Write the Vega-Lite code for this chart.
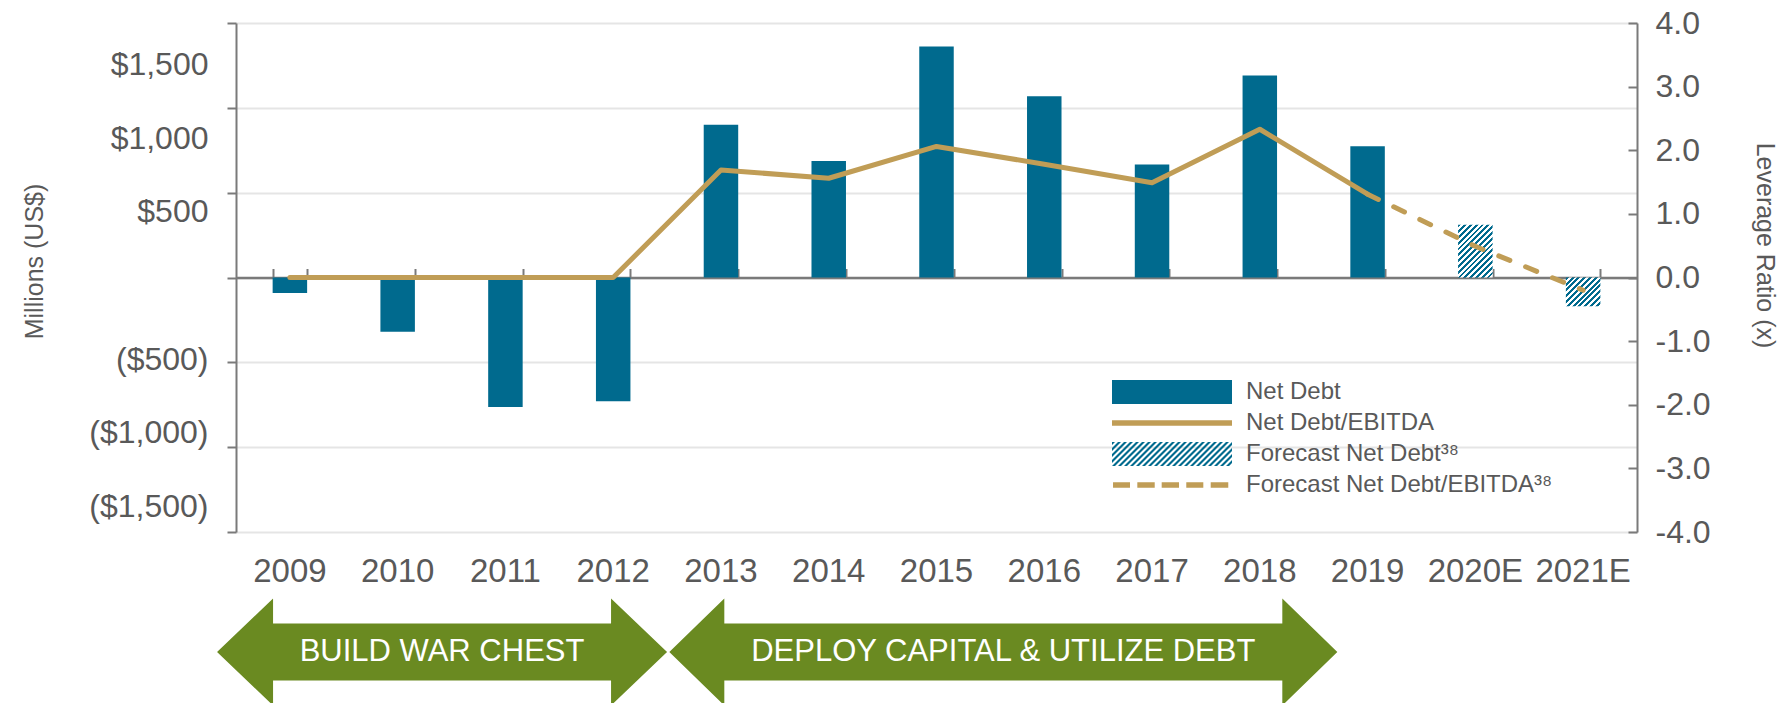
{
"$schema": "https://vega.github.io/schema/vega-lite/v6.json",
"background": "white",
"padding": {"left": 21, "top": 7, "right": 5, "bottom": 0},
"autosize": {"type": "pad"},
"config": {
  "view": {"stroke": null},
  "font": "Liberation Sans",
  "axis": {"labelFont": "Liberation Sans", "titleFont": "Liberation Sans", "labelColor": "#595959", "titleColor": "#595959", "titleFontWeight": "normal"}
},
"datasets": {
  "netDebt": [
    {"year": "2009", "netDebt": -92, "leverage": 0, "status": "Actual"},
    {"year": "2010", "netDebt": -320, "leverage": 0, "status": "Actual"},
    {"year": "2011", "netDebt": -763, "leverage": 0, "status": "Actual"},
    {"year": "2012", "netDebt": -730, "leverage": 0, "status": "Actual"},
    {"year": "2013", "netDebt": 901, "leverage": 1.69, "status": "Actual"},
    {"year": "2014", "netDebt": 687, "leverage": 1.56, "status": "Actual"},
    {"year": "2015", "netDebt": 1362, "leverage": 2.06, "status": "Actual"},
    {"year": "2016", "netDebt": 1069, "leverage": 1.78, "status": "Actual"},
    {"year": "2017", "netDebt": 666, "leverage": 1.49, "status": "Actual"},
    {"year": "2018", "netDebt": 1190, "leverage": 2.33, "status": "Actual"},
    {"year": "2019", "netDebt": 774, "leverage": 1.31, "status": "Actual"},
    {"year": "2020E", "netDebt": 311, "leverage": 0.49, "status": "Forecast"},
    {"year": "2021E", "netDebt": -169, "leverage": -0.2, "status": "Forecast"}
  ],
  "phases": [
    {"phase": "BUILD WAR CHEST", "center": 1.912},
    {"phase": "DEPLOY CAPITAL & UTILIZE DEBT", "center": 7.12}
  ]
},
"bounds": "flush",
"spacing": 70,
"vconcat": [
  {
    "width": 1401,
    "height": 509,
    "data": {"name": "netDebt"},
    "layer": [
      {
        "encoding": {
          "x": {"field": "year", "type": "nominal", "sort": null,
                "scale": {"type": "band", "paddingInner": 0.68, "paddingOuter": 0.34},
                "axis": {"title": null, "orient": "bottom", "domain": false, "ticks": false, "grid": false, "labelAngle": 0, "labelFontSize": 33, "labelPadding": 23}},
          "y": {"field": "netDebt", "type": "quantitative",
                "scale": {"domain": [-1500, 1500], "nice": false, "zero": false},
                "axis": {"orient": "left", "title": "Millions (US$)",
                         "values": [-1500, -1000, -500, 0, 500, 1000, 1500],
                         "labelExpr": "datum.value == 0 ? '' : datum.value > 0 ? '$' + format(datum.value, ',') : '($' + format(-datum.value, ',') + ')'",
                         "labelOffset": {"expr": "8 + datum.value * 0.0224"},
                         "grid": true, "gridColor": "#E5E5E5", "gridWidth": 2,
                         "domainColor": "#7A7A7A", "domainWidth": 2,
                         "tickColor": "#7A7A7A", "tickWidth": 2, "tickSize": 9,
                         "labelPadding": 19, "labelFontSize": 32,
                         "titleFontSize": 25, "titleX": -202, "titleY": 238, "titleAngle": -90, "titleAlign": "center", "titleBaseline": "middle"}}
        },
        "layer": [
          {
            "transform": [{"filter": "datum.status == 'Actual'"}],
            "mark": {"type": "bar"},
            "encoding": {
              "color": {"datum": "Net Debt", "type": "nominal",
                "scale": {"domain": ["Net Debt", "Net Debt/EBITDA", "Forecast Net Debt³⁸", "Forecast Net Debt/EBITDA³⁸"],
                          "range": ["#006A8E", "#C09D56", "#006A8E", "#C09D56"]},
                "legend": {
                  "orient": "none", "legendX": 874, "legendY": 357, "title": null, "direction": "vertical",
                  "symbolSize": 400, "symbolStrokeWidth": 0, "symbolOpacity": 1,
                  "symbolType": {"expr": "datum.index == 0 ? 'M-1,-1.2L11,-1.2L11,1.2L-1,1.2Z' : datum.index == 1 ? 'M-1,-0.27L11,-0.27L11,0.27L-1,0.27Z' : datum.index == 2 ? 'M-1,-1.2L-0.7,-1.2L-1,-0.9Z M-0.4,-1.2L-0.1,-1.2L-1,-0.3L-1,-0.6Z M0.2,-1.2L0.5,-1.2L-1,0.3L-1,0Z M0.8,-1.2L1.1,-1.2L-1,0.9L-1,0.6Z M-1,1.2L-0.7,1.2L1.7,-1.2L1.4,-1.2Z M-0.4,1.2L-0.1,1.2L2.3,-1.2L2,-1.2Z M0.2,1.2L0.5,1.2L2.9,-1.2L2.6,-1.2Z M0.8,1.2L1.1,1.2L3.5,-1.2L3.2,-1.2Z M1.4,1.2L1.7,1.2L4.1,-1.2L3.8,-1.2Z M2,1.2L2.3,1.2L4.7,-1.2L4.4,-1.2Z M2.6,1.2L2.9,1.2L5.3,-1.2L5,-1.2Z M3.2,1.2L3.5,1.2L5.9,-1.2L5.6,-1.2Z M3.8,1.2L4.1,1.2L6.5,-1.2L6.2,-1.2Z M4.4,1.2L4.7,1.2L7.1,-1.2L6.8,-1.2Z M5,1.2L5.3,1.2L7.7,-1.2L7.4,-1.2Z M5.6,1.2L5.9,1.2L8.3,-1.2L8,-1.2Z M6.2,1.2L6.5,1.2L8.9,-1.2L8.6,-1.2Z M6.8,1.2L7.1,1.2L9.5,-1.2L9.2,-1.2Z M7.4,1.2L7.7,1.2L10.1,-1.2L9.8,-1.2Z M8,1.2L8.3,1.2L10.7,-1.2L10.4,-1.2Z M8.6,1.2L8.9,1.2L11,-0.9L11,-1.2Z M9.2,1.2L9.5,1.2L11,-0.3L11,-0.6Z M9.8,1.2L10.1,1.2L11,0.3L11,0Z M10.4,1.2L10.7,1.2L11,0.9L11,0.6Z' : 'M-0.898,-0.27L0.8,-0.27L0.8,0.27L-0.898,0.27Z M1.532,-0.27L3.272,-0.27L3.272,0.27L1.532,0.27Z M3.968,-0.27L5.702,-0.27L5.702,0.27L3.968,0.27Z M6.428,-0.27L8.132,-0.27L8.132,0.27L6.428,0.27Z M8.87,-0.27L10.628,-0.27L10.628,0.27L8.87,0.27Z'"},
                  "labelFontSize": 24, "labelColor": "#595959", "labelFont": "Liberation Sans",
                  "labelOffset": 112, "labelLimit": 600, "rowPadding": 7, "padding": 0
                }
              }
            }
          },
          {
            "transform": [{"filter": "datum.year == '2020E'"}],
            "mark": {"type": "bar", "fill": {"gradient": "linear", "x1": 0, "y1": 0, "x2": 0.756, "y2": 1.155, "stops": [
              {"offset":0,"color":"#006A8E"},{"offset":0.0333,"color":"#006A8E"},{"offset":0.0333,"color":"#FFFFFF"},{"offset":0.0667,"color":"#FFFFFF"},
              {"offset":0.0667,"color":"#006A8E"},{"offset":0.1,"color":"#006A8E"},{"offset":0.1,"color":"#FFFFFF"},{"offset":0.1333,"color":"#FFFFFF"},
              {"offset":0.1333,"color":"#006A8E"},{"offset":0.1667,"color":"#006A8E"},{"offset":0.1667,"color":"#FFFFFF"},{"offset":0.2,"color":"#FFFFFF"},
              {"offset":0.2,"color":"#006A8E"},{"offset":0.2333,"color":"#006A8E"},{"offset":0.2333,"color":"#FFFFFF"},{"offset":0.2667,"color":"#FFFFFF"},
              {"offset":0.2667,"color":"#006A8E"},{"offset":0.3,"color":"#006A8E"},{"offset":0.3,"color":"#FFFFFF"},{"offset":0.3333,"color":"#FFFFFF"},
              {"offset":0.3333,"color":"#006A8E"},{"offset":0.3667,"color":"#006A8E"},{"offset":0.3667,"color":"#FFFFFF"},{"offset":0.4,"color":"#FFFFFF"},
              {"offset":0.4,"color":"#006A8E"},{"offset":0.4333,"color":"#006A8E"},{"offset":0.4333,"color":"#FFFFFF"},{"offset":0.4667,"color":"#FFFFFF"},
              {"offset":0.4667,"color":"#006A8E"},{"offset":0.5,"color":"#006A8E"},{"offset":0.5,"color":"#FFFFFF"},{"offset":0.5333,"color":"#FFFFFF"},
              {"offset":0.5333,"color":"#006A8E"},{"offset":0.5667,"color":"#006A8E"},{"offset":0.5667,"color":"#FFFFFF"},{"offset":0.6,"color":"#FFFFFF"},
              {"offset":0.6,"color":"#006A8E"},{"offset":0.6333,"color":"#006A8E"},{"offset":0.6333,"color":"#FFFFFF"},{"offset":0.6667,"color":"#FFFFFF"},
              {"offset":0.6667,"color":"#006A8E"},{"offset":0.7,"color":"#006A8E"},{"offset":0.7,"color":"#FFFFFF"},{"offset":0.7333,"color":"#FFFFFF"},
              {"offset":0.7333,"color":"#006A8E"},{"offset":0.7667,"color":"#006A8E"},{"offset":0.7667,"color":"#FFFFFF"},{"offset":0.8,"color":"#FFFFFF"},
              {"offset":0.8,"color":"#006A8E"},{"offset":0.8333,"color":"#006A8E"},{"offset":0.8333,"color":"#FFFFFF"},{"offset":0.8667,"color":"#FFFFFF"},
              {"offset":0.8667,"color":"#006A8E"},{"offset":0.9,"color":"#006A8E"},{"offset":0.9,"color":"#FFFFFF"},{"offset":0.9333,"color":"#FFFFFF"},
              {"offset":0.9333,"color":"#006A8E"},{"offset":0.9667,"color":"#006A8E"},{"offset":0.9667,"color":"#FFFFFF"},{"offset":1,"color":"#FFFFFF"}
            ]}}
          },
          {
            "transform": [{"filter": "datum.year == '2021E'"}],
            "mark": {"type": "bar", "fill": {"gradient": "linear", "x1": 0, "y1": 0, "x2": 1.49, "y2": 1.239, "stops": [
              {"offset":0,"color":"#006A8E"},{"offset":0.0333,"color":"#006A8E"},{"offset":0.0333,"color":"#FFFFFF"},{"offset":0.0667,"color":"#FFFFFF"},
              {"offset":0.0667,"color":"#006A8E"},{"offset":0.1,"color":"#006A8E"},{"offset":0.1,"color":"#FFFFFF"},{"offset":0.1333,"color":"#FFFFFF"},
              {"offset":0.1333,"color":"#006A8E"},{"offset":0.1667,"color":"#006A8E"},{"offset":0.1667,"color":"#FFFFFF"},{"offset":0.2,"color":"#FFFFFF"},
              {"offset":0.2,"color":"#006A8E"},{"offset":0.2333,"color":"#006A8E"},{"offset":0.2333,"color":"#FFFFFF"},{"offset":0.2667,"color":"#FFFFFF"},
              {"offset":0.2667,"color":"#006A8E"},{"offset":0.3,"color":"#006A8E"},{"offset":0.3,"color":"#FFFFFF"},{"offset":0.3333,"color":"#FFFFFF"},
              {"offset":0.3333,"color":"#006A8E"},{"offset":0.3667,"color":"#006A8E"},{"offset":0.3667,"color":"#FFFFFF"},{"offset":0.4,"color":"#FFFFFF"},
              {"offset":0.4,"color":"#006A8E"},{"offset":0.4333,"color":"#006A8E"},{"offset":0.4333,"color":"#FFFFFF"},{"offset":0.4667,"color":"#FFFFFF"},
              {"offset":0.4667,"color":"#006A8E"},{"offset":0.5,"color":"#006A8E"},{"offset":0.5,"color":"#FFFFFF"},{"offset":0.5333,"color":"#FFFFFF"},
              {"offset":0.5333,"color":"#006A8E"},{"offset":0.5667,"color":"#006A8E"},{"offset":0.5667,"color":"#FFFFFF"},{"offset":0.6,"color":"#FFFFFF"},
              {"offset":0.6,"color":"#006A8E"},{"offset":0.6333,"color":"#006A8E"},{"offset":0.6333,"color":"#FFFFFF"},{"offset":0.6667,"color":"#FFFFFF"},
              {"offset":0.6667,"color":"#006A8E"},{"offset":0.7,"color":"#006A8E"},{"offset":0.7,"color":"#FFFFFF"},{"offset":0.7333,"color":"#FFFFFF"},
              {"offset":0.7333,"color":"#006A8E"},{"offset":0.7667,"color":"#006A8E"},{"offset":0.7667,"color":"#FFFFFF"},{"offset":0.8,"color":"#FFFFFF"},
              {"offset":0.8,"color":"#006A8E"},{"offset":0.8333,"color":"#006A8E"},{"offset":0.8333,"color":"#FFFFFF"},{"offset":0.8667,"color":"#FFFFFF"},
              {"offset":0.8667,"color":"#006A8E"},{"offset":0.9,"color":"#006A8E"},{"offset":0.9,"color":"#FFFFFF"},{"offset":0.9333,"color":"#FFFFFF"},
              {"offset":0.9333,"color":"#006A8E"},{"offset":0.9667,"color":"#006A8E"},{"offset":0.9667,"color":"#FFFFFF"},{"offset":1,"color":"#FFFFFF"}
            ]}}
          }
        ]
      },
      {
        "encoding": {
          "x": {"field": "year", "type": "nominal", "sort": null,
                "scale": {"type": "band", "paddingInner": 0.68, "paddingOuter": 0.34},
                "axis": {"title": null, "orient": "bottom", "offset": -254.5, "labels": false, "grid": false,
                         "domain": true, "domainColor": "#7A7A7A", "domainWidth": 2.5,
                         "ticks": true, "tickBand": "extent", "tickSize": -9, "tickColor": "#7A7A7A", "tickWidth": 2}},
          "y": {"field": "leverage", "type": "quantitative",
                "scale": {"domain": [-4, 4], "nice": false, "zero": false},
                "axis": {"orient": "right", "title": "Leverage Ratio (x)",
                         "values": [-4, -3, -2, -1, 0, 1, 2, 3, 4],
                         "labelExpr": "(datum.value < 0 ? '-' : '') + format(abs(datum.value), '.1f')",
                         "grid": false, "domainColor": "#7A7A7A", "domainWidth": 2,
                         "tickColor": "#7A7A7A", "tickWidth": 2, "tickSize": -9,
                         "labelPadding": 27, "labelFontSize": 32,
                         "titleFontSize": 25, "titleX": 127, "titleY": 222, "titleAngle": 90, "titleAlign": "center", "titleBaseline": "middle"}}
        },
        "layer": [
          {
            "transform": [{"filter": "datum.status == 'Actual'"}],
            "mark": {"type": "line", "strokeWidth": 5, "strokeCap": "round", "strokeJoin": "round"},
            "encoding": {"color": {"datum": "Net Debt/EBITDA", "type": "nominal", "legend": null}}
          },
          {
            "transform": [{"filter": "datum.status == 'Forecast' || datum.year == '2019'"}],
            "mark": {"type": "line", "strokeWidth": 5, "strokeDash": [12, 17], "strokeCap": "round"},
            "encoding": {"color": {"datum": "Forecast Net Debt/EBITDA³⁸", "type": "nominal", "legend": null}}
          }
        ]
      }
    ],
    "resolve": {"scale": {"y": "independent"}, "axis": {"x": "independent", "y": "independent"}}
  },
  {
    "width": 1401,
    "height": 100,
    "data": {"name": "phases"},
    "encoding": {
      "x": {"field": "center", "type": "quantitative", "scale": {"domain": [0, 13], "nice": false, "zero": false}, "axis": null}
    },
    "layer": [
      {
        "mark": {"type": "point", "filled": true, "opacity": 1, "size": 40000, "color": "#6A8A21", "strokeWidth": 0},
        "encoding": {
          "shape": {"field": "phase", "type": "nominal",
            "scale": {"domain": ["BUILD WAR CHEST", "DEPLOY CAPITAL & UTILIZE DEBT"],
                      "range": ["M-2.25,0L-1.69,-0.535L-1.69,-0.285L1.69,-0.285L1.69,-0.535L2.25,0L1.69,0.535L1.69,0.285L-1.69,0.285L-1.69,0.535Z",
                                "M-3.34,0L-2.79,-0.535L-2.79,-0.285L2.79,-0.285L2.79,-0.535L3.34,0L2.79,0.535L2.79,0.285L-2.79,0.285L-2.79,0.535Z"]},
            "legend": null}
        }
      },
      {
        "mark": {"type": "text", "color": "#FFFFFF", "fontSize": 31, "font": "Liberation Sans", "align": "center", "baseline": "middle"},
        "encoding": {"text": {"field": "phase", "type": "nominal"}}
      }
    ]
  }
]
}
